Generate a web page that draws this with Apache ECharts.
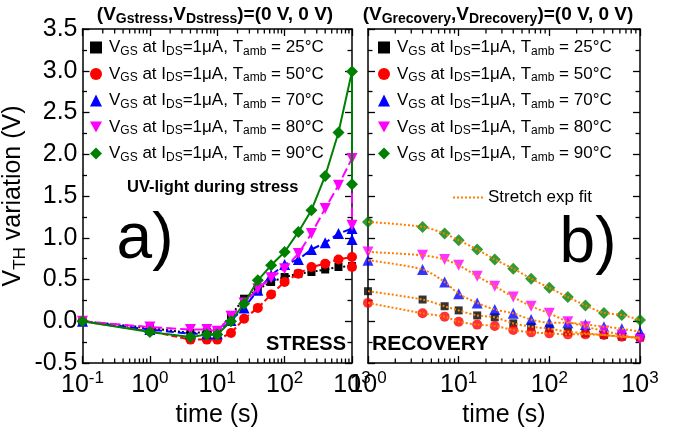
<!DOCTYPE html>
<html>
<head>
<meta charset="utf-8">
<script src="https://cdn.jsdelivr.net/npm/echarts@6/dist/echarts.min.js"></script>
<style>
  html, body { margin: 0; padding: 0; background: #fff; }
  #chart { width: 673px; height: 440px; }
</style>
</head>
<body>
<div id="chart"></div>
<script>
// stress phase (left panel); the last time is repeated for the drop at the end
const stressTime = [0.1, 1, 4, 7, 10, 16, 25, 40, 63, 100, 160, 250, 400, 630, 1000, 1000];
const stress25 = [0, -0.08, -0.14, -0.13, -0.13, 0.075, 0.27, 0.38, 0.47, 0.53, 0.57, 0.59, 0.62, 0.65, 0.66, 0.66];
const stress50 = [0, -0.12, -0.22, -0.22, -0.22, -0.14, 0.03, 0.16, 0.32, 0.47, 0.57, 0.65, 0.69, 0.74, 0.77, 0.65];
const stress70 = [0, -0.10, -0.15, -0.15, -0.15, 0.01, 0.16, 0.37, 0.55, 0.68, 0.74, 0.86, 0.94, 1.05, 1.11, 0.98];
const stress80 = [0, -0.07, -0.10, -0.10, -0.12, 0.06, 0.22, 0.39, 0.52, 0.63, 0.81, 1.05, 1.35, 1.63, 1.95, 1.15];
const stress90 = [0, -0.13, -0.19, -0.16, -0.16, 0.00, 0.21, 0.49, 0.67, 0.83, 1.07, 1.33, 1.74, 2.26, 2.99, 1.64];

// recovery phase (right panel)
const recTime = [1, 4, 7, 10, 16, 25, 40, 63, 100, 160, 250, 400, 630, 1000];
const rec25 = [0.36, 0.26, 0.18, 0.13, 0.07, 0.047, -0.025, -0.065, -0.09, -0.125, -0.145, -0.165, -0.185, -0.195];
const rec50 = [0.22, 0.095, 0.055, -0.005, -0.04, -0.057, -0.105, -0.133, -0.145, -0.157, -0.157, -0.165, -0.185, -0.195];
const rec70 = [0.73, 0.62, 0.47, 0.33, 0.22, 0.14, 0.095, 0.02, -0.017, -0.017, -0.04, -0.065, -0.09, -0.125];
const rec80 = [0.83, 0.79, 0.74, 0.67, 0.54, 0.42, 0.29, 0.18, 0.095, -0.005, -0.065, -0.117, -0.165, -0.216];
const rec90 = [1.19, 1.13, 1.05, 0.97, 0.86, 0.74, 0.63, 0.51, 0.40, 0.29, 0.19, 0.10, 0.075, 0.015];

const temps = ['25', '50', '70', '80', '90'];
const colors = ['#000000', '#ff0000', '#0000ff', '#ff00ff', '#008000'];
const symbols = ['rect', 'circle', 'triangle', 'path://M0,0L10,0L5,9Z', 'diamond'];
const symbolSizes = [8, 10, 11, 11, 12];
const dashes = ['dotted', [6, 3], [8, 4], [10, 4], 'solid'];

// minor ticks of the log axes: 2..9 in every decade
const minorTicks = [];
[0.1, 1, 10, 100].forEach(d => {
  for (let k = 2; k <= 9; k++) minorTicks.push(+(d * k).toPrecision(3));
});

const FONT = 'Liberation Sans';
const names = temps.map(t => 'T' + t);

function pairs(xs, ys) {
  return xs.map((x, i) => [x, ys[i]]);
}

const stressData = [stress25, stress50, stress70, stress80, stress90];
const recData = [rec25, rec50, rec70, rec80, rec90];

const chart = echarts.init(document.getElementById('chart'));

function logXAxes(grid) {
  const base = {
    type: 'log', logBase: 10, gridIndex: grid,
    min: grid === 0 ? 0.1 : 1, max: 1000,
    splitLine: { show: false },
    axisLine: { onZero: false, lineStyle: { color: '#000', width: 1.5 } },
    axisTick: { inside: true, length: 7, lineStyle: { color: '#000', width: 1.3 } }
  };
  return [
    Object.assign({}, base, {
      position: 'bottom',
      name: 'time (s)', nameLocation: 'middle', nameGap: 39,
      nameTextStyle: { fontFamily: FONT, fontSize: 25, color: '#000' },
      axisLabel: {
        margin: 7, color: '#000', fontFamily: FONT,
        showMinLabel: true, showMaxLabel: true, hideOverlap: false,
        formatter: v => '{b|10}{p|' + Math.round(Math.log10(v)) + '}',
        rich: {
          b: { fontSize: 25, lineHeight: 30, fontFamily: FONT, color: '#000' },
          p: { fontSize: 17, lineHeight: 16, verticalAlign: 'top', fontFamily: FONT, color: '#000' }
        }
      }
    }),
    Object.assign({}, base, { position: 'top', axisLabel: { show: false } })
  ];
}

function yAxes(grid) {
  const base = {
    type: 'value', gridIndex: grid, min: -0.5, max: 3.5, interval: 0.5,
    splitLine: { show: false },
    axisLine: { show: true, onZero: false, lineStyle: { color: '#000', width: 1.5 } },
    axisTick: { inside: true, length: 7, lineStyle: { color: '#000', width: 1.3 } },
    minorTick: { show: true, splitNumber: 2, length: 4.5, lineStyle: { color: '#000', width: 1.3 } }
  };
  const left = Object.assign({}, base, { position: 'left' });
  if (grid === 0) {
    left.axisLabel = {
      margin: 5, color: '#000', fontFamily: FONT, fontSize: 25,
      formatter: v => v.toFixed(1)
    };
    left.name = '{v|V}{s|TH}{v| variation (V)}';
    left.nameLocation = 'middle';
    left.nameGap = 54;
    left.nameTextStyle = {
      rich: {
        v: { fontSize: 25, lineHeight: 30, fontFamily: FONT, color: '#000' },
        s: { fontSize: 17, lineHeight: 14, verticalAlign: 'bottom', fontFamily: FONT, color: '#000' }
      }
    };
  } else {
    left.axisLabel = { show: false };
  }
  const right = Object.assign({}, base, { position: 'right', axisLabel: { show: false } });
  return [left, right];
}

// short log-decade ticks on the bottom and top frame, placed through the axis scale
function minorTickSeries(xIdx, yIdx, minT) {
  return {
    type: 'custom', xAxisIndex: xIdx, yAxisIndex: yIdx, silent: true, clip: false, z: 1,
    data: minorTicks.filter(v => v > minT).map(v => [v, -0.5]),
    renderItem: (params, api) => {
      const b = api.coord([api.value(0), -0.5]);
      const t = api.coord([api.value(0), 3.5]);
      const st = { stroke: '#000', lineWidth: 1.3 };
      return {
        type: 'group',
        children: [
          { type: 'line', shape: { x1: b[0], y1: b[1], x2: b[0], y2: b[1] - 4.5 }, style: st },
          { type: 'line', shape: { x1: t[0], y1: t[1], x2: t[0], y2: t[1] + 4.5 }, style: st }
        ]
      };
    }
  };
}

const series = [];
temps.forEach((t, i) => {
  series.push({
    name: names[i], type: 'line', xAxisIndex: 0, yAxisIndex: 0,
    data: pairs(stressTime, stressData[i]),
    symbol: symbols[i], symbolSize: symbolSizes[i],
    itemStyle: { color: colors[i] },
    lineStyle: { color: colors[i], width: 2, type: dashes[i] },
    z: 2 + i
  });
});
temps.forEach((t, i) => {
  series.push({
    name: names[i], type: 'scatter', xAxisIndex: 2, yAxisIndex: 2,
    data: pairs(recTime, recData[i]),
    symbol: symbols[i], symbolSize: symbolSizes[i],
    itemStyle: { color: colors[i] },
    z: 2 + i
  });
});
// stretched exponential fits drawn over the recovery points
temps.forEach((t, i) => {
  series.push({
    name: 'Stretch exp fit', type: 'line', xAxisIndex: 2, yAxisIndex: 2,
    data: pairs(recTime, recData[i]),
    smooth: 0.3, symbol: 'none',
    itemStyle: { color: '#ff8000' },
    lineStyle: { color: '#ff8000', width: 2, type: 'dotted' },
    z: 10
  });
});
series.push(minorTickSeries(0, 0, 0.1));
series.push(minorTickSeries(2, 2, 1));

const legendRich = {
  f: { fontSize: 17, lineHeight: 20, fontFamily: FONT, color: '#000', padding: [0, 0, 0, 2] },
  n: { fontSize: 17, lineHeight: 20, fontFamily: FONT, color: '#000' },
  s: { fontSize: 12, lineHeight: 12, verticalAlign: 'bottom', fontFamily: FONT, color: '#000' }
};
function legendLabel(name) {
  const t = name.slice(1);
  return '{f|V}{s|GS}{n| at I}{s|DS}{n|=1μA, T}{s|amb}{n| = ' + t + '°C}';
}
function tempLegend(left) {
  return {
    orient: 'vertical', left: left, top: 34,
    itemWidth: 12, itemHeight: 12, itemGap: 8,
    lineStyle: { opacity: 0 },
    data: names.map((n, i) => ({ name: n, icon: symbols[i] })),
    formatter: legendLabel,
    textStyle: { rich: legendRich },
    selectedMode: false
  };
}

const titleRich = {
  b: { fontSize: 19, fontWeight: 'bold', fontFamily: FONT, lineHeight: 22, fill: '#000' },
  s: { fontSize: 14, fontWeight: 'bold', fontFamily: FONT, lineHeight: 14, verticalAlign: 'bottom', fill: '#000' }
};

const option = {
  backgroundColor: '#fff',
  animation: false,
  grid: [
    { left: 80, right: 321, top: 29, bottom: 77 },
    { left: 368, right: 33, top: 29, bottom: 77 }
  ],
  xAxis: logXAxes(0).concat(logXAxes(1)),
  yAxis: yAxes(0).concat(yAxes(1)),
  legend: [
    tempLegend(85),
    tempLegend(373),
    {
      left: 447, top: 184, itemWidth: 30, itemHeight: 12,
      itemStyle: { opacity: 0 },
      data: ['Stretch exp fit'],
      textStyle: { fontFamily: FONT, fontSize: 17, color: '#000' },
      selectedMode: false
    }
  ],
  graphic: [
    {
      type: 'text', x: 215, y: 15,
      style: {
        text: '{b|(V}{s|Gstress}{b|,V}{s|Dstress}{b|)=(0 V, 0 V)}',
        rich: titleRich, align: 'center', verticalAlign: 'middle'
      }
    },
    {
      type: 'text', x: 498, y: 15,
      style: {
        text: '{b|(V}{s|Grecovery}{b|,V}{s|Drecovery}{b|)=(0 V, 0 V)}',
        rich: titleRich, align: 'center', verticalAlign: 'middle'
      }
    },
    {
      type: 'text', x: 127, y: 187,
      style: { text: 'UV-light during stress', font: 'bold 16.5px "Liberation Sans"', fill: '#000', verticalAlign: 'middle' }
    },
    {
      type: 'text', x: 145, y: 240,
      style: { text: 'a)', font: '64px "Liberation Sans"', fill: '#000', align: 'center', verticalAlign: 'middle' }
    },
    {
      type: 'text', x: 588, y: 244,
      style: { text: 'b)', font: '64px "Liberation Sans"', fill: '#000', align: 'center', verticalAlign: 'middle' }
    },
    {
      type: 'text', x: 346, y: 344,
      style: { text: 'STRESS', font: 'bold 20px "Liberation Sans"', fill: '#000', align: 'right', verticalAlign: 'middle' }
    },
    {
      type: 'text', x: 372, y: 344,
      style: { text: 'RECOVERY', font: 'bold 21px "Liberation Sans"', fill: '#000', align: 'left', verticalAlign: 'middle' }
    }
  ],
  series: series
};

chart.setOption(option);
</script>
</body>
</html>
